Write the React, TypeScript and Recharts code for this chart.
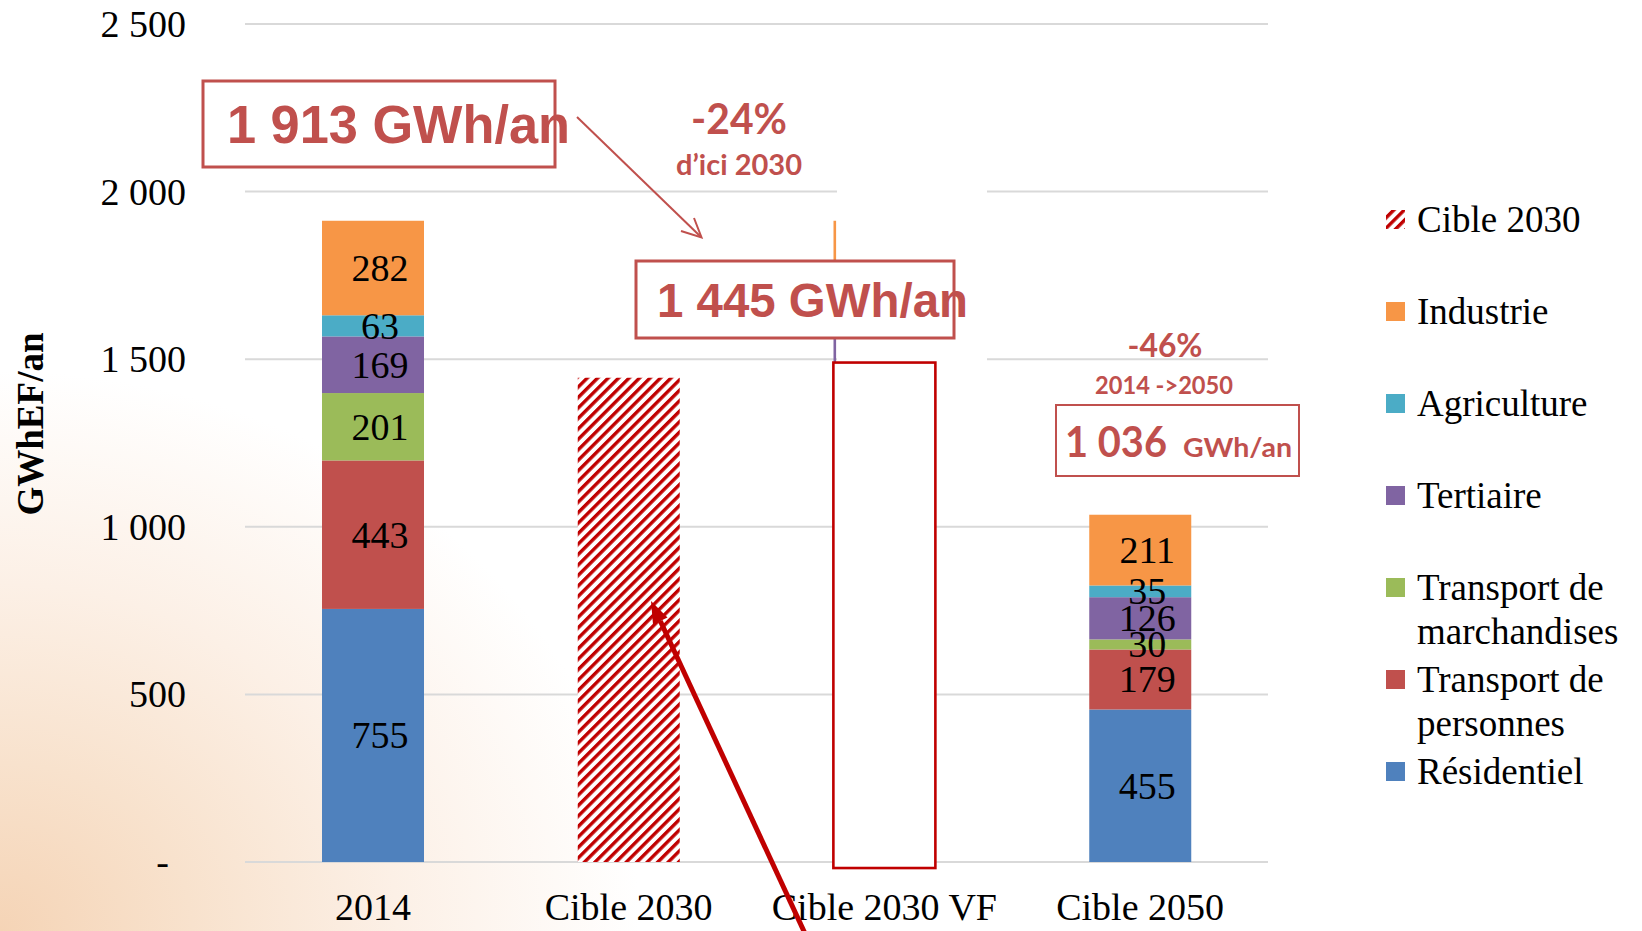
import React from 'react';
import { BarChart, Bar, XAxis, YAxis, CartesianGrid, LabelList, ReferenceArea, Legend } from 'recharts';

// ---- data ----
const categories = ['2014', 'Cible 2030', 'Cible 2030 VF', 'Cible 2050'];
const residentiel = [755, null, 755, 455];
const transportPersonnes = [443, null, 443, 179];
const transportMarchandises = [201, null, 201, 30];
const tertiaire = [169, null, 169, 126];
const agriculture = [63, null, 63, 35];
const industrie = [282, null, 282, 211];
const cible2030 = [null, 1445, null, null];
const vfBoxRange = [-18, 1490];
const yTicks = [0, 500, 1000, 1500, 2000, 2500];

const seriesKeys = ['residentiel', 'transportPersonnes', 'transportMarchandises', 'tertiaire', 'agriculture', 'industrie'];
const seriesValues = [residentiel, transportPersonnes, transportMarchandises, tertiaire, agriculture, industrie];
const seriesColors = ['#4F81BD', '#C0504D', '#9BBB59', '#8064A2', '#4BACC6', '#F79646'];
const seriesLegend = [['Résidentiel'], ['Transport de', 'personnes'], ['Transport de', 'marchandises'], ['Tertiaire'], ['Agriculture'], ['Industrie']];
const hatchLegend = 'Cible 2030';

const data = categories.map((name, i) => {
  const row: any = { name, cible2030: cible2030[i] };
  seriesKeys.forEach((k, j) => { row[k] = seriesValues[j][i]; });
  return row;
});

const SERIF = 'Liberation Serif';
const fmt = (v: number) => String(v).replace(/\B(?=(\d{3})+(?!\d))/g, ' ');

const XTick = (props: any) => {
  const { x, payload } = props;
  return (
    <text x={x} y={920} textAnchor="middle" fontSize={38} fontFamily={SERIF} fill="#000">{payload.value}</text>
  );
};

const YTick = (props: any) => {
  const { y, payload } = props;
  const v = payload.value;
  return (
    <text x={v === 0 ? 169 : 186} y={y + 13} textAnchor="end" fontSize={38} fontFamily={SERIF} fill="#000">
      {v === 0 ? '-' : fmt(v)}
    </text>
  );
};

const segmentShape = (props: any) => {
  const { x, y, width, height, fill, index } = props;
  if (!height || height <= 0) return null;
  if (categories[index] === 'Cible 2030 VF') {
    return <rect x={x} y={y} width={2.6} height={height} fill={fill} />;
  }
  return <rect x={x} y={y} width={width} height={height} fill={fill} />;
};

const segLabel = (props: any) => {
  const { x, y, width, height, value, index } = props;
  if (value == null || categories[index] === 'Cible 2030 VF') return null;
  return (
    <text x={x + width / 2 + 7} y={y + height / 2 + 13} textAnchor="middle" fontSize={38} fontFamily={SERIF} fill="#000">
      {value}
    </text>
  );
};

const LegendContent = () => {
  const rows: { lines: string[]; color: string }[] = [{ lines: [hatchLegend], color: 'url(#hatchLegend)' }];
  for (let j = seriesKeys.length - 1; j >= 0; j--) rows.push({ lines: seriesLegend[j], color: seriesColors[j] });
  return (
    <svg width={262} height={640} style={{ display: 'block' }}>
      <defs>
        <pattern id="hatchLegend" patternUnits="userSpaceOnUse" width="7.4" height="7.4" patternTransform="rotate(45)">
          <rect width="7.4" height="7.4" fill="#fff" />
          <rect width="3.4" height="7.4" fill="#C00000" />
        </pattern>
      </defs>
      {rows.map((r, k) => {
        const cy = 30 + 92 * k;
        return (
          <g key={k}>
            <rect x={6} y={cy - 10} width={19} height={19} fill={r.color} />
            {r.lines.map((l, m) => (
              <text key={m} x={37} y={cy + 12 + m * 44} fontSize={37} fontFamily={SERIF} fill="#000">{l}</text>
            ))}
          </g>
        );
      })}
    </svg>
  );
};

const vfShape = (p: any) => {
  const cx = p.x + p.width / 2;
  return <rect x={cx - 51} y={p.y} width={102} height={p.height} fill="#fff" stroke="#C00000" strokeWidth={2.6} />;
};

const RED = '#C0504D';
const DARK = '#C00000';

export default function App() {
  const refAreaProps: any = { zIndex: 350 };
  return (
    <div
      style={{
        position: 'absolute', left: 0, top: 0, width: 1642, height: 931, overflow: 'hidden',
        background: 'radial-gradient(ellipse 640px 560px at 0% 100%, #F5D4B6 0%, #F8E2CD 30%, #FCF0E6 62%, #FFFFFF 100%)',
      }}
    >
      <BarChart width={1642} height={931} data={data} margin={{ top: 24, right: 374, bottom: 0, left: 0 }} barSize={102}>
        <defs>
          <pattern id="hatch" patternUnits="userSpaceOnUse" width="7.4" height="7.4" patternTransform="rotate(45)">
            <rect width="7.4" height="7.4" fill="#fff" />
            <rect width="3.4" height="7.4" fill="#C00000" />
          </pattern>
        </defs>
        <CartesianGrid vertical={false} stroke="#D9D9D9" strokeWidth={2} />
        <XAxis dataKey="name" axisLine={false} tickLine={false} height={69} tick={<XTick />} interval={0} />
        <YAxis domain={[0, 2500]} ticks={yTicks} width={245} axisLine={false} tickLine={false} tick={<YTick />} interval={0} />
        {seriesKeys.map((k, j) => (
          <Bar key={k} dataKey={k} name={seriesLegend[j].join(' ')} stackId="a" fill={seriesColors[j]} isAnimationActive={false} shape={segmentShape}>
            <LabelList dataKey={k} content={segLabel} />
          </Bar>
        ))}
        <Bar dataKey="cible2030" name={hatchLegend} stackId="a" fill="url(#hatch)" isAnimationActive={false} />
        <ReferenceArea
          {...refAreaProps}
          x1="Cible 2030 VF"
          x2="Cible 2030 VF"
          y1={vfBoxRange[0]}
          y2={vfBoxRange[1]}
          ifOverflow="visible"
          shape={vfShape}
        />
        <Legend
          layout="horizontal"
          verticalAlign="middle"
          align="center"
          content={<LegendContent />}
          wrapperStyle={{ position: 'absolute', left: 1380, top: 190, width: 262, height: 640 }}
        />
      </BarChart>

      <svg width={1642} height={931} style={{ position: 'absolute', left: 0, top: 0, pointerEvents: 'none' }}>
        {/* mask behind 2030 VF labels */}
        <rect x={837} y={185} width={150} height={176} fill="#fff" />

        {/* 1 913 box */}
        <rect x={203} y={81} width={352} height={86} fill="none" stroke={RED} strokeWidth={3} />
        <text x={227} y={143} fontFamily="Liberation Sans" fontWeight="bold" fontSize={53} fill={RED} textLength={343} lengthAdjust="spacingAndGlyphs">1 913 GWh/an</text>
        <line x1={577} y1={117} x2={701} y2={237} stroke={RED} strokeWidth={2} />
        <polyline points="681,231 701.5,237.5 694,218" fill="none" stroke={RED} strokeWidth={2} />

        {/* -24% */}
        <text x={739} y={134} textAnchor="middle" fontFamily="Lato" fontWeight="bold" fontSize={42} fill={RED} textLength={96} lengthAdjust="spacingAndGlyphs">-24%</text>
        <text x={739} y={175} textAnchor="middle" fontFamily="Lato" fontWeight="bold" fontSize={29} fill={RED} textLength={126} lengthAdjust="spacingAndGlyphs">d’ici 2030</text>

        {/* 1 445 box */}
        <rect x={636} y={261} width={318} height={77} fill="#fff" stroke={RED} strokeWidth={3} />
        <text x={657} y={317} fontFamily="Liberation Sans" fontWeight="bold" fontSize={47.5} fill={RED} textLength={311} lengthAdjust="spacingAndGlyphs">1 445 GWh/an</text>

        {/* -46% */}
        <text x={1165} y={357} textAnchor="middle" fontFamily="Lato" fontWeight="bold" fontSize={32} fill={RED} textLength={75} lengthAdjust="spacingAndGlyphs">-46%</text>
        <text x={1164} y={394} textAnchor="middle" fontFamily="Lato" fontWeight="bold" fontSize={24} fill={RED} textLength={138} lengthAdjust="spacingAndGlyphs">2014 -&gt;2050</text>
        <rect x={1056} y={405} width={243} height={71} fill="#fff" stroke={RED} strokeWidth={2} />
        <text x={1065} y={457} fontFamily="Lato" fontWeight="bold" fontSize={42} fill={RED} textLength={102} lengthAdjust="spacingAndGlyphs">1 036</text>
        <text x={1183} y={457} fontFamily="Lato" fontWeight="bold" fontSize={27} fill={RED} textLength={109} lengthAdjust="spacingAndGlyphs">GWh/an</text>

        {/* dark red arrow */}
        <line x1={808} y1={940} x2={660.3} y2={621} stroke={DARK} strokeWidth={5} />
        <polygon points="651,601 667.5,617.6 653,624.4" fill={DARK} />

        {/* y axis title */}
        <text x={43} y={424} transform="rotate(-90 43 424)" textAnchor="middle" fontFamily={SERIF} fontWeight="bold" fontSize={37} fill="#000">GWhEF/an</text>
      </svg>
    </div>
  );
}
